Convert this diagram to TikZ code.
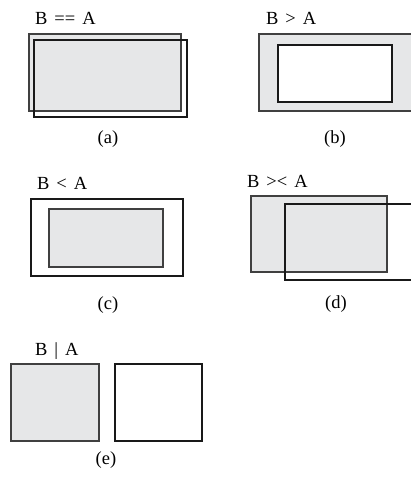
\documentclass[tikz,border=0pt]{standalone}
\usepackage{fontspec}
\setmainfont[WordSpace=1.5]{Liberation Serif}
\definecolor{boxgray}{RGB}{230,231,232}
\tikzset{
	grayrect/.style={draw=black!75,fill=boxgray,line width=1.5pt},
	openrect/.style={draw=black!90,line width=1.1pt},
	caption/.style={font=\fontsize{18.5}{22}\selectfont,inner sep=0pt}
}
\begin{document}
\begin{tikzpicture}[x=1pt,y=-1pt]
	\useasboundingbox (0,0) rectangle (411,479);
	\clip (0,0) rectangle (411,479);
	% (a) equal
	\node[caption,anchor=base west] (la) at (35,24) {B == A};
	\draw[grayrect] (29,34) rectangle (181,111);
	\draw[openrect] (34,40) rectangle (187,117);
	\node[caption] (ca) at (108,139) {(a)};
	% (b) contains
	\node[caption,anchor=base west] (lb) at (266,24) {B > A};
	\draw[grayrect] (259,34) rectangle (425,111);
	\draw[openrect,fill=white] (278,45) rectangle (392,102);
	\node[caption] (cb) at (335,139) {(b)};
	% (c) contained
	\node[caption,anchor=base west] (lc) at (37,189) {B < A};
	\draw[openrect] (31,199) rectangle (183,276);
	\draw[grayrect,line width=1.3pt] (49,209) rectangle (163,267);
	\node[caption] (cc) at (108,305) {(c)};
	% (d) overlap
	\node[caption,anchor=base west] (ld) at (247,187) {B >< A};
	\draw[grayrect] (251,196) rectangle (387,272);
	\draw[openrect] (285,204) rectangle (425,280);
	\node[caption] (cd) at (336,304) {(d)};
	% (e) disjoint
	\node[caption,anchor=base west] (le) at (35,355) {B | A};
	\draw[grayrect] (11,364) rectangle (99,441);
	\draw[openrect] (115,364) rectangle (202,441);
	\node[caption] (ce) at (106,460) {(e)};
\end{tikzpicture}
\end{document}
